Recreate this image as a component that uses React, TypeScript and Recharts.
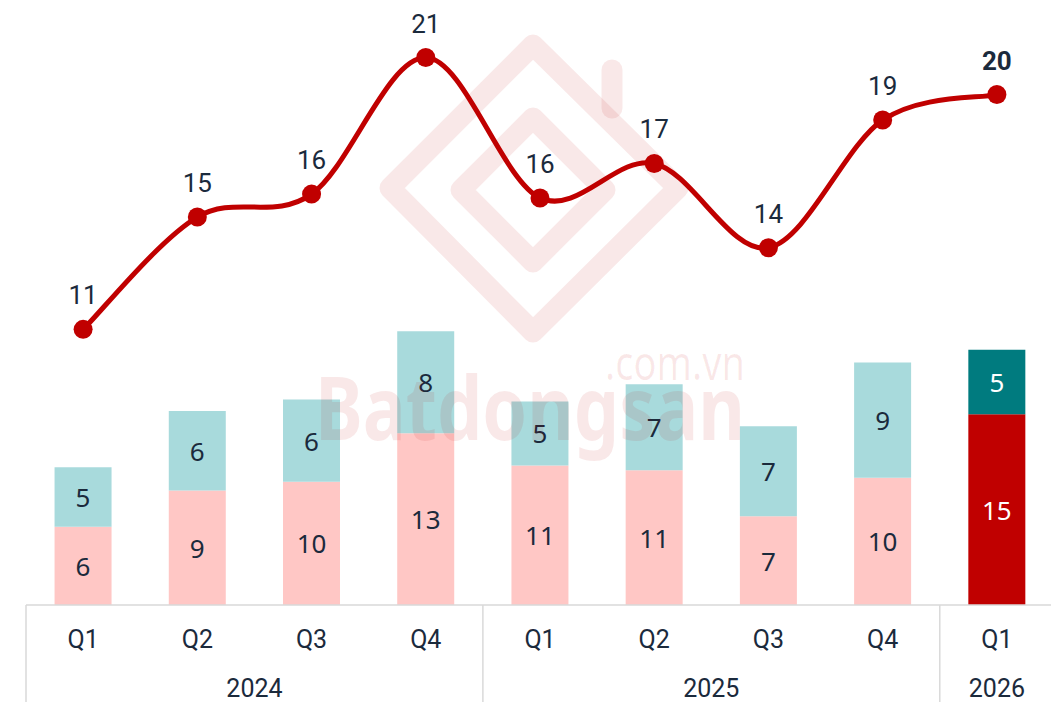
import React from 'react';
import { ComposedChart, Bar, Line, XAxis, YAxis, Cell, LabelList } from 'recharts';

const quarters = ['Q1', 'Q2', 'Q3', 'Q4', 'Q1', 'Q2', 'Q3', 'Q4', 'Q1'];
const years = ['2024', '2024', '2024', '2024', '2025', '2025', '2025', '2025', '2026'];
const lowerValues = [6.13, 8.98, 9.65, 13.45, 10.94, 10.55, 6.96, 9.98, 14.94];
const upperValues = [4.67, 6.22, 6.45, 8.0, 5.01, 6.75, 7.04, 9.02, 5.06];
const totalValues = [10.8, 15.2, 16.1, 21.45, 15.95, 17.3, 14.0, 19.0, 20.0];

const data = quarters.map((q, i) => ({
  key: `${years[i]}-${q}`,
  lower: lowerValues[i],
  upper: upperValues[i],
  total: totalValues[i],
}));

const NAVY = '#1B2A3C';
const PINK = '#FFC7C5';
const CYAN = '#A8DADC';
const TEAL = '#007B7F';
const RED = '#C00000';
const GRID = '#D9D9D9';
const lastIndex = data.length - 1;

// Excel-like smooth (Catmull-Rom as cubic Bezier) curve factory
function smoothCurve(context: any) {
  let pts: number[][] = [];
  return {
    areaStart() {},
    areaEnd() {},
    lineStart() {
      pts = [];
    },
    point(x: number, y: number) {
      pts.push([+x, +y]);
    },
    lineEnd() {
      const n = pts.length;
      if (!n) return;
      context.moveTo(pts[0][0], pts[0][1]);
      const t = 1 / 6;
      for (let i = 0; i < n - 1; i++) {
        const p0 = pts[i - 1] || pts[i];
        const p1 = pts[i];
        const p2 = pts[i + 1];
        const p3 = pts[i + 2] || p2;
        context.bezierCurveTo(
          p1[0] + (p2[0] - p0[0]) * t,
          p1[1] + (p2[1] - p0[1]) * t,
          p2[0] - (p3[0] - p1[0]) * t,
          p2[1] - (p3[1] - p1[1]) * t,
          p2[0],
          p2[1]
        );
      }
    },
  };
}

const yearGroups = years.reduce((acc: { year: string; start: number; count: number }[], y, i) => {
  const last = acc[acc.length - 1];
  if (last && last.year === y) last.count += 1;
  else acc.push({ year: y, start: i, count: 1 });
  return acc;
}, []);

const Tick = (props: any) => {
  const { x, y, payload } = props;
  const i = payload.index;
  const half = payload.offset;
  const group = yearGroups.find((g) => g.start === i);
  return (
    <g>
      <text
        x={x}
        y={y + 34}
        textAnchor="middle"
        dominantBaseline="central"
        fontFamily="Roboto"
        fontSize={25}
        fill={NAVY}
      >
        {quarters[i]}
      </text>
      {group && (
        <>
          <line x1={x - half} y1={y} x2={x - half} y2={y + 100} stroke={GRID} strokeWidth={1.5} />
          <text
            x={x + (group.count - 1) * half}
            y={y + 83}
            textAnchor="middle"
            dominantBaseline="central"
            fontFamily="Roboto"
            fontSize={25}
            fill={NAVY}
          >
            {group.year}
          </text>
        </>
      )}
    </g>
  );
};

const barLabel = (props: any) => {
  const { x, y, width, height, value, index } = props;
  return (
    <text
      x={x + width / 2}
      y={y + height / 2}
      textAnchor="middle"
      dominantBaseline="central"
      fontFamily="Noto Sans"
      fontSize={26}
      fill={index === lastIndex ? '#FFFFFF' : NAVY}
    >
      {Math.round(value)}
    </text>
  );
};

const lineLabel = (props: any) => {
  const { x, y, value, index } = props;
  const isLast = index === lastIndex;
  return (
    <text
      x={x}
      y={y - 34}
      textAnchor="middle"
      dominantBaseline="central"
      fontFamily="Roboto"
      fontSize={26}
      fontWeight={isLast ? 700 : 400}
      fill={NAVY}
    >
      {Math.round(value)}
    </text>
  );
};

const Watermark = () => (
  <svg
    width={1051}
    height={702}
    style={{ position: 'absolute', left: 0, top: 0, pointerEvents: 'none' }}
  >
    <g fill="none" stroke={RED} strokeOpacity={0.09} strokeWidth={21} strokeLinejoin="round" strokeLinecap="round">
      <path d="M 533 45 L 678 188 L 533 332 L 390 188 Z" />
      <path d="M 533 118 L 605 190 L 533 262 L 461 190 Z" />
      <path d="M 612 108 L 612 70" />
    </g>
    <text
      x={605}
      y={380}
      fontFamily="Noto Sans"
      fontSize={48}
      fill={RED}
      fillOpacity={0.09}
      textLength={140}
      lengthAdjust="spacingAndGlyphs"
    >
      .com.vn
    </text>
    <text
      x={315}
      y={440}
      fontFamily="Noto Sans"
      fontWeight={700}
      fontSize={88}
      fill={RED}
      fillOpacity={0.09}
      textLength={430}
      lengthAdjust="spacingAndGlyphs"
    >
      Batdongsan
    </text>
  </svg>
);

export default function App() {
  return (
    <div
      style={{
        position: 'absolute',
        left: 0,
        top: 0,
        width: 1051,
        height: 702,
        overflow: 'hidden',
        background: '#FFFFFF',
      }}
    >
      <ComposedChart
        width={1054}
        height={702}
        data={data}
        margin={{ top: 18, right: 0, bottom: 0, left: 26 }}
        barCategoryGap="25%"
      >
        <XAxis
          dataKey="key"
          height={97}
          interval={0}
          tickLine={false}
          tickSize={0}
          tickMargin={0}
          axisLine={{ stroke: GRID, strokeWidth: 1.5 }}
          tick={<Tick />}
        />
        <YAxis yAxisId="bar" domain={[0, 46]} hide />
        <YAxis yAxisId="line" domain={[0, 23]} hide />
        <Bar yAxisId="bar" dataKey="lower" stackId="s" isAnimationActive={false}>
          {data.map((d, i) => (
            <Cell key={d.key} fill={i === lastIndex ? RED : PINK} />
          ))}
          <LabelList dataKey="lower" content={barLabel} />
        </Bar>
        <Bar yAxisId="bar" dataKey="upper" stackId="s" isAnimationActive={false}>
          {data.map((d, i) => (
            <Cell key={d.key} fill={i === lastIndex ? TEAL : CYAN} />
          ))}
          <LabelList dataKey="upper" content={barLabel} />
        </Bar>
        <Line
          yAxisId="line"
          dataKey="total"
          type={smoothCurve as any}
          stroke={RED}
          strokeWidth={5}
          dot={{ r: 9.5, fill: RED, stroke: RED, strokeWidth: 0 }}
          activeDot={false}
          isAnimationActive={false}
        >
          <LabelList dataKey="total" content={lineLabel} />
        </Line>
      </ComposedChart>
      <Watermark />
    </div>
  );
}
